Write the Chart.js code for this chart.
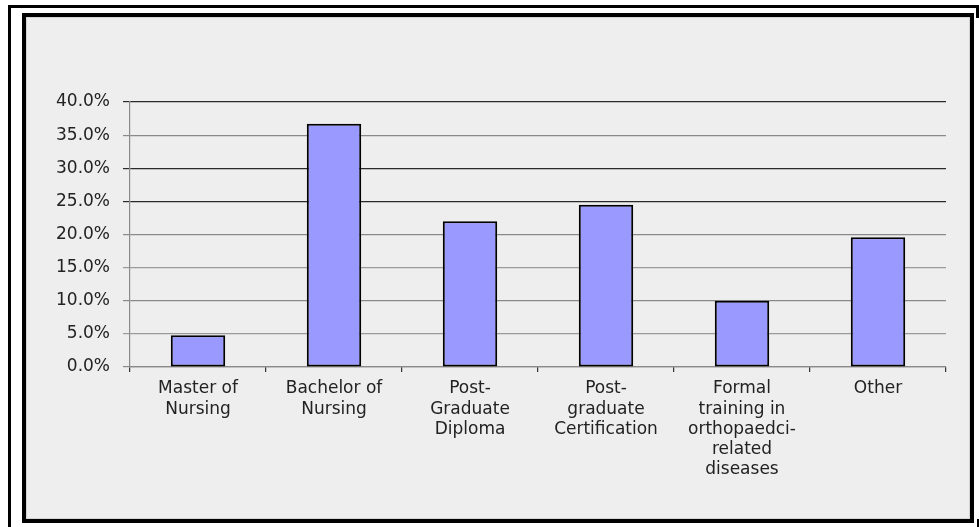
<!DOCTYPE html>
<html>
<head>
<meta charset="utf-8">
<script src="https://cdn.jsdelivr.net/npm/chart.js@4/dist/chart.umd.min.js"></script>
<style>
    html, body { margin: 0; padding: 0; background: #fff; width: 979px; height: 527px; overflow: hidden; }
    .outer-frame { position: absolute; left: 8px; top: 5px; width: 970px; height: 540px; border: 3px solid #000; border-right: none; }
    .outer-corner { position: absolute; left: 976px; top: 5px; width: 3px; height: 13px; background: #000; }
    .outer-mark { position: absolute; left: 977px; top: 519px; width: 2px; height: 8px; background: #000; }
    .chart-box { position: absolute; left: 22px; top: 13px; width: 944px; height: 502px; border: 4px solid #000; background: #eeeeee; box-shadow: inset 0 0 0 1px #d4d4d4; }
    .chart-box canvas { position: absolute; left: 0; top: 0; }
</style>
</head>
<body>
<div class="outer-frame"></div>
<div class="outer-corner"></div>
<div class="outer-mark"></div>
<div class="chart-box"><canvas class="education-graph" width="944" height="502"></canvas></div>
<script>
// qualification categories (multi-line labels as in the original)
let categories = [
    ['Master of', 'Nursing'],
    ['Bachelor of', 'Nursing'],
    ['Post-', 'Graduate', 'Diploma'],
    ['Post-', 'graduate', 'Certification'],
    ['Formal', 'training in', 'orthopaedci-', 'related', 'diseases'],
    ['Other']
];
// percentage of respondents
let percentages = [4.8, 36.7, 22.0, 24.5, 10.0, 19.6];
// y axis ticks
let yTicks = [0, 5, 10, 15, 20, 25, 30, 35, 40];

// gridlines in the scan: some print darker than others
let gridColors = ['#8a8a8a', '#9a9a9a', '#8a8a8a', '#9a9a9a', '#8a8a8a', '#2a2a2a', '#2a2a2a', '#8a8a8a', '#2a2a2a'];

let labelFont = '"DejaVu Sans", Verdana, sans-serif';

let graph_element = document.querySelector('.education-graph').getContext('2d');

let education_graph = new Chart(graph_element, {
    type: 'bar',
    data: {
        labels: categories,
        datasets: [{
            label: 'Qualification',
            data: percentages,
            backgroundColor: '#9999ff',
            borderColor: '#000000',
            borderWidth: 2,
            borderSkipped: false,
            barPercentage: 0.4,
            categoryPercentage: 1.0
        }]
    },
    options: {
        responsive: false,
        animation: false,
        layout: {
            padding: { top: 85, right: 24, left: 0, bottom: 0 }
        },
        plugins: {
            legend: { display: false },
            tooltip: { enabled: false }
        },
        scales: {
            y: {
                min: 0,
                max: 40,
                afterFit: (scale) => { scale.width = 104; },
                afterBuildTicks: (scale) => { scale.ticks = yTicks.map(v => ({ value: v })); },
                ticks: {
                    padding: 13,
                    color: '#222',
                    font: { size: 17, family: labelFont },
                    callback: (value) => value.toFixed(1) + '%'
                },
                grid: {
                    color: gridColors,
                    lineWidth: 1.2,
                    tickLength: 7,
                    drawTicks: true
                },
                border: { display: true, color: '#8a8a8a', width: 1.2 }
            },
            x: {
                offset: true,
                afterFit: (scale) => { scale.height = 152; },
                ticks: {
                    padding: 7,
                    color: '#222',
                    maxRotation: 0,
                    autoSkip: false,
                    font: { size: 17, family: labelFont, lineHeight: 1.18 }
                },
                grid: {
                    offset: true,
                    drawOnChartArea: false,
                    drawTicks: true,
                    tickLength: 5,
                    color: '#333',
                    lineWidth: 1.2
                },
                border: { display: true, color: '#8a8a8a', width: 1.2 }
            }
        }
    }
});
</script>
</body>
</html>
